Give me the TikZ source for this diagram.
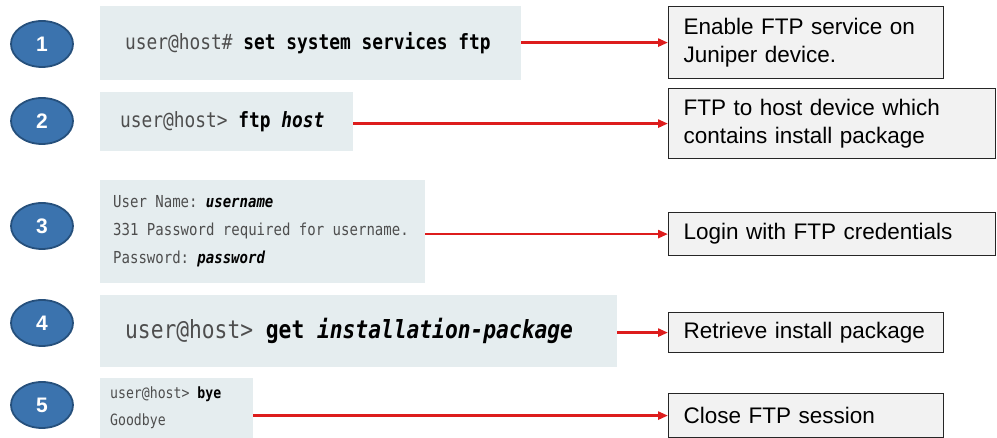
\documentclass[tikz,border=0pt]{standalone}
\usepackage{fontspec}
\setmainfont{Liberation Sans}
\setmonofont[FakeStretch=0.85]{DejaVu Sans Mono}
\usetikzlibrary{arrows.meta,shapes.geometric}

\definecolor{stepblue}{RGB}{59,115,174}
\definecolor{stepedge}{RGB}{38,80,124}
\definecolor{cmdbg}{RGB}{229,237,239}
\definecolor{notebg}{RGB}{242,242,242}
\definecolor{flowred}{RGB}{221,28,28}
\definecolor{promptgray}{RGB}{78,78,78}

\newcommand{\prm}[1]{\textcolor{promptgray}{#1}}
\newcommand{\cmdfont}[2]{\fontsize{#1}{#2}\ttfamily}

\begin{document}
\begin{tikzpicture}[x=1pt,y=-1pt,
    stepnum/.style={ellipse,fill=stepblue,draw=stepedge,line width=1.8pt,
        minimum width=62,minimum height=46,text=white,
        font=\fontsize{21}{24}\selectfont\bfseries},
    cmdbox/.style={anchor=north west,fill=cmdbg,align=left,inner ysep=0pt,
        execute at begin node={\spaceskip=0.512em\relax}},
    notebox/.style={anchor=north west,fill=notebg,draw=black!85,line width=1.2pt,
        align=left,inner xsep=15pt,inner ysep=0pt,
        font=\fontsize{22.5}{28}\selectfont},
    flow/.style={draw=flowred,line width=2.5pt,-{Triangle[length=10pt,width=8pt]}}]
    \useasboundingbox (0,0) rectangle (997,438);
        %% Step circles
        \node[stepnum] (s1) at (42,44)  {1};
        \node[stepnum] (s2) at (42,121) {2};
        \node[stepnum] (s3) at (42,226) {3};
        \node[stepnum] (s4) at (42,323) {4};
        \node[stepnum] (s5) at (42,405) {5};
        %% Commands
        \node[cmdbox,minimum height=74,text width=371,inner xsep=25pt,
            font=\cmdfont{21}{25}] (c1) at (100,6)
            {\prm{user@host\#} \textbf{set system services ftp}};
        \node[cmdbox,minimum height=59,text width=213,inner xsep=20pt,
            font=\cmdfont{21}{25}] (c2) at (100,92)
            {\prm{user@host>} \textbf{ftp \textit{host}}};
        \node[cmdbox,minimum height=103,text width=299,inner xsep=13pt,
            font=\cmdfont{16.5}{28}] (c3) at (100,180)
            {\prm{User Name:} \textbf{\textit{username}}\\
             \prm{331 Password required for username.}\\
             \prm{Password:} \textbf{\textit{password}}};
        \node[cmdbox,minimum height=72,text width=467,inner xsep=25pt,
            font=\cmdfont{25}{29}] (c4) at (100,295)
            {\prm{user@host>} \textbf{get \textit{installation-package}}};
        \node[cmdbox,minimum height=60,text width=133,inner xsep=10pt,
            font=\cmdfont{15.5}{27}] (c5) at (100,378)
            {\prm{user@host>} \textbf{bye}\\
             \prm{Goodbye}};
        %% Notes
        \node[notebox,minimum height=72,text width=245] (n1) at (668,6)
            {Enable FTP service on\\Juniper device.};
        \node[notebox,minimum height=70,text width=297] (n2) at (668,88)
            {FTP to host device which\\contains install package};
        \node[notebox,minimum height=43,text width=297] (n3) at (668,212)
            {Login with FTP credentials};
        \node[notebox,minimum height=40,text width=245] (n4) at (668,312)
            {Retrieve install package};
        \node[notebox,minimum height=44,text width=245] (n5) at (668,393)
            {Close FTP session};
        %% Arrows
            \draw[flow] (c1.east |- n1.west) -- (n1.west);
            \draw[flow] (c2.east |- n2.west) -- (n2.west);
            \draw[flow] (c3.east |- n3.west) -- (n3.west);
            \draw[flow] (c4.east |- n4.west) -- (n4.west);
            \draw[flow] (c5.east |- n5.west) -- (n5.west);
    \end{tikzpicture}
\end{document}
